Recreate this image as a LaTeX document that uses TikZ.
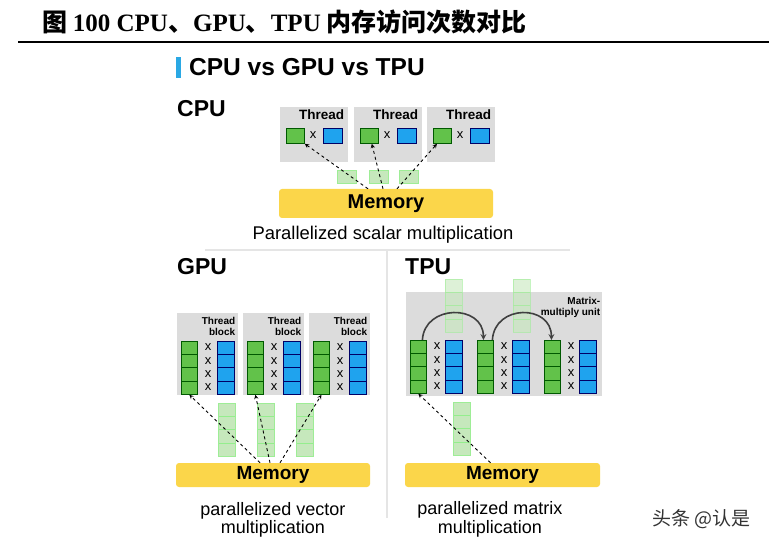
\documentclass[tikz,border=0pt]{standalone}
\usepackage{fontspec}
\setmainfont{Liberation Serif}
\setsansfont{Liberation Sans}
\newfontfamily\cjk{Noto Sans CJK SC}
\definecolor{cellgreen}{HTML}{62C24A}
\definecolor{cellblue}{HTML}{1FA3EE}
\definecolor{lightgreen}{HTML}{C6E8BC}
\definecolor{boxgray}{HTML}{DCDCDC}
\definecolor{memyellow}{HTML}{FBD64A}
\definecolor{barblue}{HTML}{2AA8E4}
\newcommand{\fsz}[1]{\fontsize{#1}{#1}\selectfont}
\begin{document}
\begin{tikzpicture}[x=1pt,y=-1pt,
  tbox/.style={fill=boxgray,draw=none,anchor=north west,inner sep=0},
  gcell/.style={fill=cellgreen,draw=green!35!black,line width=0.8,anchor=north west,inner sep=0},
  bcell/.style={fill=cellblue,draw=blue!40!black,line width=0.8,anchor=north west,inner sep=0},
  lcell/.style={fill=lightgreen,draw=green!20!lightgreen,line width=0.6,anchor=north west,inner sep=0},
  gcol/.style={gcell,minimum width=16,minimum height=53,path picture={
    \foreach \k in {1,2,3}\draw[green!35!black,line width=0.8]([yshift=-\k*13.25pt]path picture bounding box.north west)--([yshift=-\k*13.25pt]path picture bounding box.north east);}},
  bcol/.style={bcell,minimum width=17,minimum height=53,path picture={
    \foreach \k in {1,2,3}\draw[blue!40!black,line width=0.8]([yshift=-\k*13.25pt]path picture bounding box.north west)--([yshift=-\k*13.25pt]path picture bounding box.north east);}},
  lcol/.style={lcell,minimum width=17,minimum height=53,path picture={
    \foreach \k in {1,2,3}\draw[green!25!lightgreen,line width=0.6]([yshift=-\k*13.25pt]path picture bounding box.north west)--([yshift=-\k*13.25pt]path picture bounding box.north east);}},
  mem/.style={fill=memyellow,rounded corners=3,inner sep=0,font=\sffamily\bfseries\fsz{19}},
  xmark/.style={font=\sffamily\fsz{13},inner sep=0},
  dasharrow/.style={-stealth,dashed,line width=0.9},
  caption/.style={font=\sffamily\fsz{18},inner sep=0,align=center},
  head/.style={font=\sffamily\bfseries\fsz{23},inner sep=0,anchor=north west}]
\useasboundingbox (0,0) rectangle (769,545);
% title
\node[anchor=west,inner sep=0] (title) at (42,22) {\cjk\bfseries\fsz{25}图 {\rmfamily\bfseries 100 CPU}、{\rmfamily\bfseries GPU}、{\rmfamily\bfseries TPU} 内存访问次数对比};
\draw[line width=1.6] (18,42) -- (769,42);
\fill[barblue] (176,57) rectangle (181,78);
\node[anchor=west,inner sep=0,font=\sffamily\bfseries\fsz{24.5}] (main) at (189,67.5) {CPU vs GPU vs TPU};
% separators
\draw[gray!20,line width=1.2] (205,250) -- (570,250);
\draw[gray!20,line width=1.2] (387,250) -- (387,518);
% CPU
\node[head] (cpu) at (177,100) {CPU};
\foreach \i/\x in {1/280,2/354,3/427}{
  \node[tbox,minimum width=68,minimum height=55] (cpub\i) at (\x,107) {};
  \node[anchor=north east,inner sep=0,font=\sffamily\bfseries\fsz{13.5}] at ([xshift=-4pt,yshift=-3pt]cpub\i.north east) {Thread};
  \node[gcell,minimum width=18,minimum height=15] (cpug\i) at (\x+6,128) {};
  \node[xmark] at (\x+33,135.5) {x};
  \node[bcell,minimum width=19,minimum height=15] (cpuv\i) at (\x+43,128) {};
}
\foreach \x in {337,369,399}
  \node[lcell,minimum width=19,minimum height=13] at (\x,170) {};
\node[mem,minimum width=214,minimum height=29,font=\sffamily\bfseries\fsz{20}] (cpumem) at (386,203.5) {Memory};
\draw[dasharrow] ([xshift=-18pt]cpumem.north) -- (cpug1.south east);
\draw[dasharrow] ([xshift=-3pt]cpumem.north) -- ([xshift=-7pt]cpug2.south east);
\draw[dasharrow] ([xshift=11pt]cpumem.north) -- ([xshift=4pt]cpug3.south west);
\node[caption,font=\sffamily\fsz{18.4}] (cpucap) at (383,235) {Parallelized scalar multiplication};
% GPU
\node[head] (gpu) at (177,258) {GPU};
\foreach \i/\x in {1/177,2/243,3/309}{
  \node[tbox,minimum width=61,minimum height=82] (gpub\i) at (\x,313) {};
  \node[anchor=north east,inner sep=0,align=right,font=\sffamily\bfseries\fsz{10}] at ([xshift=-3pt,yshift=-4pt]gpub\i.north east) {Thread\\[1pt]block};
  \node[gcol] (gpug\i) at (\x+4,341) {};
  \foreach \k in {0,...,3}\node[xmark] at (\x+31,347.5+\k*13.25) {x};
  \node[bcol] (gpuv\i) at (\x+40,341) {};
}
\foreach \x in {218,257,296}
  \node[lcol] at (\x,403) {};
\node[mem,minimum width=194,minimum height=24] (gpumem) at (273,475) {Memory};
\draw[dasharrow] ([xshift=-13pt]gpumem.north) -- (gpug1.south);
\draw[dasharrow] ([xshift=-3pt]gpumem.north) -- (gpug2.south);
\draw[dasharrow] ([xshift=7pt]gpumem.north) -- (gpug3.south);
\node[caption] (gpucap1) at (273,511) {parallelized vector};
\node[caption] (gpucap2) at (273,529) {multiplication};
% TPU
\node[head] (tpu) at (405,258) {TPU};
\node[tbox,minimum width=196,minimum height=104] (tpub) at (406,292) {};
\node[anchor=north east,inner sep=0,align=right,font=\sffamily\bfseries\fsz{10}] at ([xshift=-2pt,yshift=-5pt]tpub.north east) {Matrix-\\[1pt]multiply unit};
\foreach \i/\x in {1/410,2/477,3/544}{
  \node[gcol] (tpug\i) at (\x,340) {};
  \foreach \k in {0,...,3}\node[xmark] at (\x+27,346.5+\k*13.25) {x};
  \node[bcol] (tpuv\i) at (\x+35,340) {};
}
\foreach \x in {445,513}
  \node[lcol,opacity=0.6] at (\x,279) {};
\draw[-stealth,line width=1.6,black!75] ([xshift=4pt]tpug1.north) .. controls +(2,-36) and +(0,-36) .. ([xshift=-2pt]tpug2.north);
\draw[-stealth,line width=1.6,black!75] ([xshift=7pt]tpug2.north) .. controls +(2,-36) and +(0,-36) .. ([xshift=-1pt]tpug3.north);
\node[lcol] at (453,402) {};
\node[mem,minimum width=195,minimum height=24] (tpumem) at (502.5,475) {Memory};
\draw[dasharrow] ([xshift=-12pt]tpumem.north) -- (tpug1.south);
\node[caption] (tpucap1) at (490,510) {parallelized matrix};
\node[caption] (tpucap2) at (490,529) {multiplication};
% watermark
\node[anchor=west,inner sep=0,font=\cjk\fsz{19},text=black!80] (mark) at (652,519) {头条 @认是};
\end{tikzpicture}
\end{document}
